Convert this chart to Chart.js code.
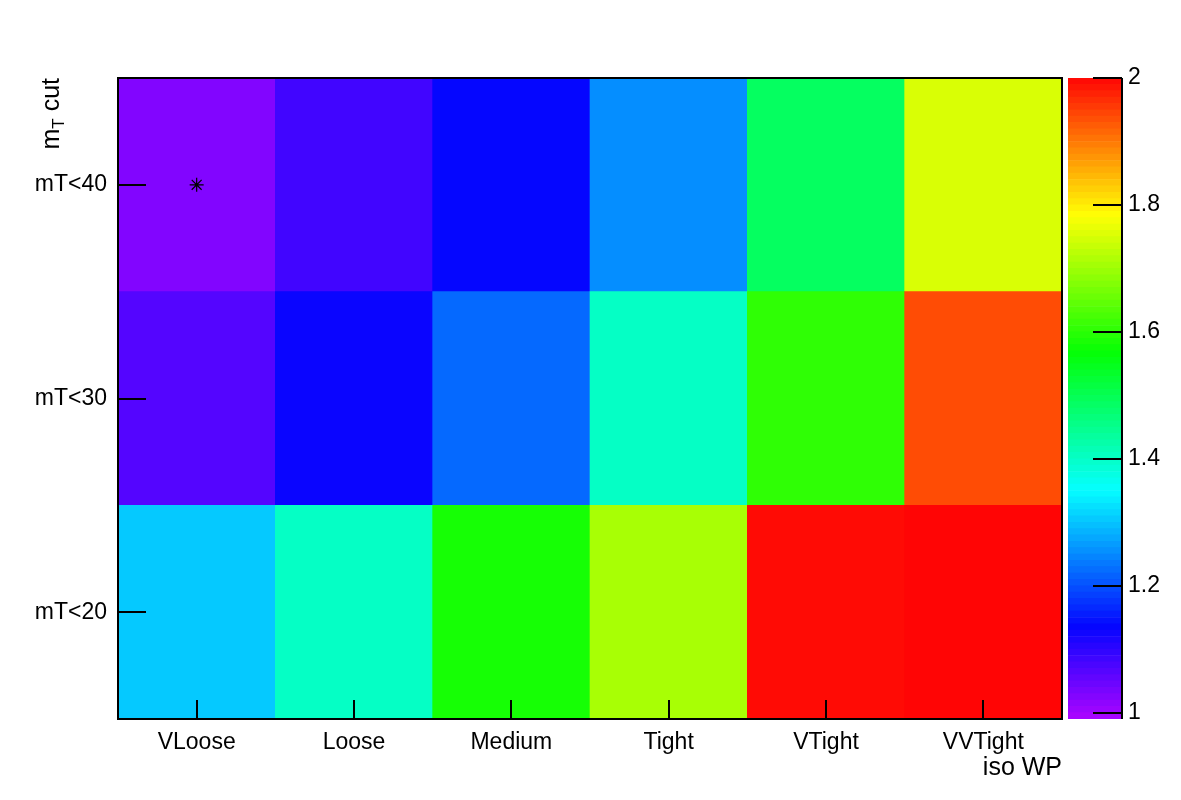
<!DOCTYPE html>
<html>
<head>
<meta charset="utf-8">
<script src="https://cdn.jsdelivr.net/npm/chart.js@4.4.1/dist/chart.umd.min.js"></script>
<style>
  html, body { margin: 0; padding: 0; background: #ffffff; }
  #wrap { position: relative; width: 1181px; height: 800px; background: #ffffff; }
  canvas { position: absolute; left: 0; top: 0; }
</style>
</head>
<body>
<div id="wrap">
  <canvas id="main" width="1181" height="800"></canvas>
  <canvas id="cbar" width="1181" height="800"></canvas>
</div>
<script>
// ---- data ----
const isoWP = ['VLoose', 'Loose', 'Medium', 'Tight', 'VTight', 'VVTight'];
const mtCuts = ['mT<20', 'mT<30', 'mT<40'];          // bottom to top
const valsMT20 = [1.304, 1.401, 1.582, 1.708, 1.995, 2.000];
const valsMT30 = [1.066, 1.130, 1.221, 1.401, 1.603, 1.939];
const valsMT40 = [1.026, 1.082, 1.135, 1.253, 1.488, 1.751];
const zRange = [0.99, 2.0];
const zTicks = [1, 1.2, 1.4, 1.6, 1.8, 2];
const bestPoint = { x: 'VLoose', y: 'mT<40' };
const xTitle = 'iso WP';
const yTitleMain = 'm', yTitleSub = 'T', yTitleRest = ' cut';

const FONT = '"Liberation Sans", Arial, Helvetica, sans-serif';

// ROOT "pretty" palette: HLS hue 280 -> 0, lightness .5, saturation 1
function paletteColor(v) {
  let f = (v - zRange[0]) / (zRange[1] - zRange[0]);
  f = Math.max(0, Math.min(1, f));
  const hue = 280 * (1 - f);
  return 'hsl(' + hue.toFixed(2) + ',100%,51%)';
}

const rowValues = [valsMT20, valsMT30, valsMT40];

const cellDatasets = rowValues.map((vals, r) => ({
  type: 'bar',
  label: mtCuts[r],
  data: vals.map(() => 1),
  backgroundColor: vals.map(paletteColor),
  borderWidth: 0,
  barPercentage: 1.0,
  categoryPercentage: 1.0,
  order: 1
}));

const markerDataset = {
  type: 'line',
  label: 'best',
  data: [{ x: bestPoint.x, y: mtCuts.indexOf(bestPoint.y) + 0.5 }],
  showLine: false,
  pointStyle: 'star',
  pointRadius: 7,
  pointBorderWidth: 1.2,
  pointBorderColor: '#000000',
  pointBackgroundColor: '#000000',
  order: -1
};

const frameAndTicks = {
  id: 'frameAndTicks',
  afterDatasetsDraw(chart) {
    const ctx = chart.ctx;
    const a = chart.chartArea;
    const xs = chart.scales.x, ys = chart.scales.y;
    ctx.save();
    ctx.strokeStyle = '#000000';
    ctx.lineWidth = 2;
    ctx.beginPath();
    xs.ticks.forEach((t, i) => {
      const px = Math.round(xs.getPixelForTick(i));
      ctx.moveTo(px, a.bottom);
      ctx.lineTo(px, a.bottom - 19);
    });
    ys.ticks.forEach((t) => {
      const py = Math.round(ys.getPixelForValue(t.value));
      ctx.moveTo(a.left, py);
      ctx.lineTo(a.left + 28, py);
    });
    ctx.stroke();
    ctx.strokeRect(a.left, a.top, a.right - a.left, a.bottom - a.top);

    // x-axis title
    ctx.fillStyle = '#000000';
    ctx.font = '25px ' + FONT;
    ctx.textAlign = 'right';
    ctx.textBaseline = 'alphabetic';
    ctx.fillText(xTitle, a.right, 775);

    // y-axis title with subscript, rotated, right-aligned at top of frame
    ctx.translate(59, a.top);
    ctx.rotate(-Math.PI / 2);
    const bigFont = '25px ' + FONT, subFont = '17px ' + FONT;
    ctx.font = bigFont; const w1 = ctx.measureText(yTitleMain).width;
    ctx.font = subFont; const w2 = ctx.measureText(yTitleSub).width;
    ctx.font = bigFont; const w3 = ctx.measureText(yTitleRest).width;
    const x0 = -(w1 + w2 + w3);
    ctx.textAlign = 'left';
    ctx.font = bigFont; ctx.fillText(yTitleMain, x0, 0);
    ctx.font = subFont; ctx.fillText(yTitleSub, x0 + w1, 5);
    ctx.font = bigFont; ctx.fillText(yTitleRest, x0 + w1 + w2, 0);
    ctx.restore();
  }
};

new Chart(document.getElementById('main'), {
  type: 'bar',
  data: { labels: isoWP, datasets: [markerDataset].concat(cellDatasets) },
  options: {
    responsive: false,
    devicePixelRatio: 1,
    animation: false,
    events: [],
    layout: { padding: { left: 0, top: 78, right: 119, bottom: 0 } },
    plugins: { legend: { display: false }, tooltip: { enabled: false }, title: { display: false } },
    scales: {
      x: {
        type: 'category',
        stacked: true,
        offset: true,
        grid: { display: false, drawTicks: false },
        border: { display: false },
        ticks: {
          color: '#000000', font: { family: FONT, size: 23 },
          padding: 10, maxRotation: 0, autoSkip: false
        },
        afterFit(scale) { scale.height = 81; }
      },
      y: {
        type: 'linear',
        stacked: true,
        min: 0, max: mtCuts.length,
        grid: { display: false, drawTicks: false },
        border: { display: false },
        afterBuildTicks(scale) { scale.ticks = mtCuts.map((_, i) => ({ value: i + 0.5 })); },
        ticks: {
          color: '#000000', font: { family: FONT, size: 23 }, padding: 11,
          callback: (v) => mtCuts[Math.floor(v)]
        },
        afterFit(scale) { scale.width = 118; }
      }
    }
  },
  plugins: [frameAndTicks]
});

// ---- colour bar ----
const nBands = 101;
const bandStep = (zRange[1] - zRange[0]) / nBands;
const bandDatasets = [];
for (let k = 0; k < nBands; k++) {
  const lo = zRange[0] + k * bandStep;
  const hi = lo + bandStep;
  bandDatasets.push({
    data: [[lo, hi]],
    backgroundColor: paletteColor((lo + hi) / 2),
    borderWidth: 0,
    grouped: false,
    barPercentage: 1.0,
    categoryPercentage: 1.0
  });
}

const cbarTicks = {
  id: 'cbarTicks',
  afterDatasetsDraw(chart) {
    const ctx = chart.ctx;
    const a = chart.chartArea;
    const ys = chart.scales.y;
    ctx.save();
    ctx.strokeStyle = '#000000';
    ctx.lineWidth = 2;
    ctx.beginPath();
    ys.ticks.forEach((t) => {
      const py = Math.round(ys.getPixelForValue(t.value));
      ctx.moveTo(a.right, py);
      ctx.lineTo(a.right - 29, py);
    });
    ctx.moveTo(a.right, a.top);
    ctx.lineTo(a.right, a.bottom);
    ctx.stroke();
    ctx.restore();
  }
};

new Chart(document.getElementById('cbar'), {
  type: 'bar',
  data: { labels: ['z'], datasets: bandDatasets },
  options: {
    responsive: false,
    devicePixelRatio: 1,
    animation: false,
    events: [],
    layout: { padding: { left: 1068, top: 78, right: 0, bottom: 81 } },
    plugins: { legend: { display: false }, tooltip: { enabled: false } },
    scales: {
      x: { display: false, offset: true },
      y: {
        type: 'linear',
        position: 'right',
        min: zRange[0], max: zRange[1],
        grid: { display: false, drawTicks: false },
        border: { display: false },
        afterBuildTicks(scale) { scale.ticks = zTicks.map(v => ({ value: v })); },
        ticks: {
          color: '#000000', font: { family: FONT, size: 23 }, padding: 6,
          callback: (v) => String(v)
        },
        afterFit(scale) { scale.width = 59; }
      }
    }
  },
  plugins: [cbarTicks]
});
</script>
</body>
</html>
